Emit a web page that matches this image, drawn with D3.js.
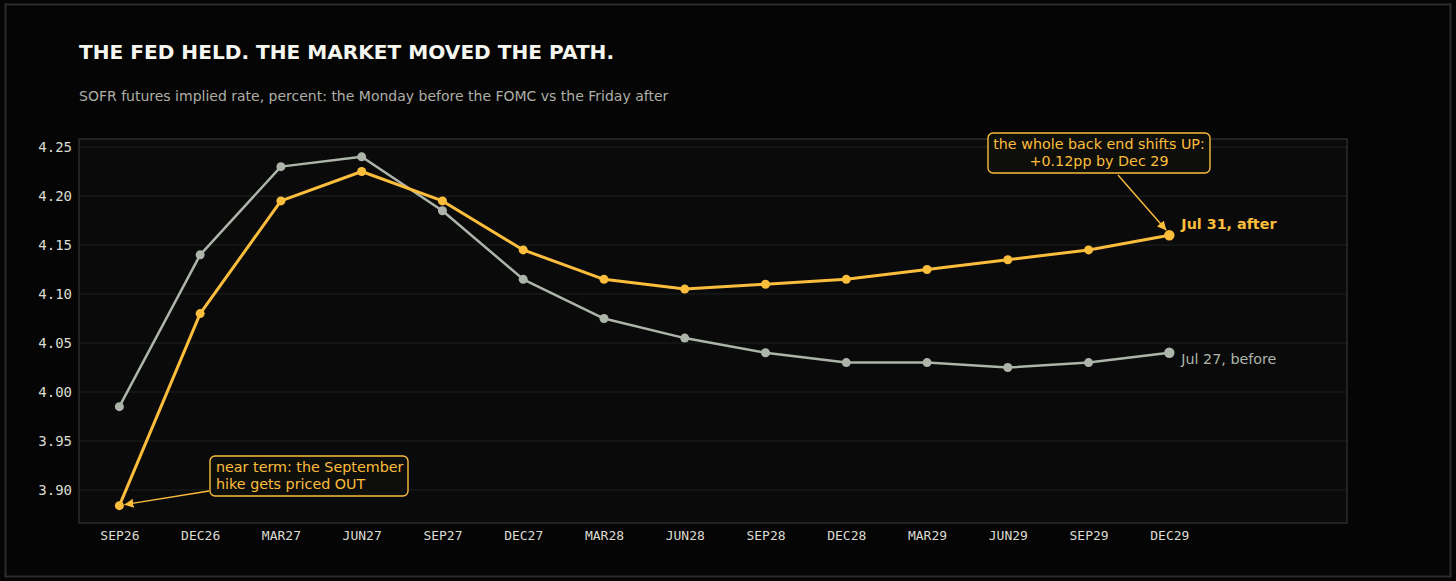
<!DOCTYPE html>
<html lang="en">
  <head>
    <meta charset="UTF-8" />
    <title>The Fed held. The market moved the path.</title>
    <style>
      html, body { margin: 0; padding: 0; background: #050505; }
      svg { display: block; }
      .tick text { font-family: "DejaVu Sans Mono", monospace; fill: #dcdcd2; }
    </style>
    <script src="https://d3js.org/d3.v7.min.js"></script>
  </head>
  <body>
    <svg width="1456" height="581"></svg>
    <script>
      // contract months
      var contracts = ["SEP26", "DEC26", "MAR27", "JUN27", "SEP27", "DEC27", "MAR28",
        "JUN28", "SEP28", "DEC28", "MAR29", "JUN29", "SEP29", "DEC29"];
      // Jul 27 (Monday before)
      var before = [3.985, 4.14, 4.23, 4.24, 4.185, 4.115, 4.075, 4.055, 4.04, 4.03, 4.03, 4.025, 4.03, 4.04];
      // Jul 31 (Friday after)
      var after = [3.884, 4.08, 4.195, 4.225, 4.195, 4.145, 4.115, 4.105, 4.11, 4.115, 4.125, 4.135, 4.145, 4.16];
      var yTicks = [3.90, 3.95, 4.00, 4.05, 4.10, 4.15, 4.20, 4.25];

      var gold = "#fbbd3c";
      var grey = "#adb5aa";

      var svg = d3.select("svg");
      var W = +svg.attr("width"), H = +svg.attr("height");

      svg.append("rect").attr("width", W).attr("height", H).attr("fill", "#050505");
      svg.append("rect")
        .attr("x", 5.5).attr("y", 4.5).attr("width", W - 11).attr("height", H - 9)
        .attr("fill", "none").attr("stroke", "#2b2b2b").attr("stroke-width", 2);

      var pL = 79, pR = 1347, pT = 139, pB = 523;

      var x = d3.scaleLinear().domain([-0.5, 15.2]).range([pL, pR]);
      var y = d3.scaleLinear().domain([3.8663, 4.2582]).range([pB, pT]);

      svg.append("text").attr("x", 79).attr("y", 59)
        .attr("font-family", "DejaVu Sans").attr("font-weight", "bold").attr("font-size", 20.1)
        .attr("fill", "#f6f6f0").text("THE FED HELD. THE MARKET MOVED THE PATH.");
      svg.append("text").attr("x", 79).attr("y", 101)
        .attr("font-family", "DejaVu Sans").attr("font-size", 14)
        .attr("fill", "#aeaea6").text("SOFR futures implied rate, percent: the Monday before the FOMC vs the Friday after");

      svg.append("rect")
        .attr("x", pL).attr("y", pT).attr("width", pR - pL).attr("height", pB - pT)
        .attr("fill", "#0a0a0a");

      // grid
      svg.append("g").selectAll("line").data(yTicks).join("line")
        .attr("x1", pL).attr("x2", pR)
        .attr("y1", d => y(d)).attr("y2", d => y(d))
        .attr("stroke", "#1b211c").attr("stroke-width", 1.2);

      svg.append("rect")
        .attr("x", pL).attr("y", pT).attr("width", pR - pL).attr("height", pB - pT)
        .attr("fill", "none").attr("stroke", "#2f352f").attr("stroke-width", 1.3);

      var yAxis = d3.axisLeft(y).tickValues(yTicks).tickFormat(d3.format(".2f")).tickSize(0).tickPadding(7);
      var gy = svg.append("g").attr("transform", "translate(" + pL + ",0)").call(yAxis);
      gy.select(".domain").remove();
      gy.selectAll("text").attr("font-size", 14);

      var xAxis = d3.axisBottom(x).tickValues(d3.range(contracts.length))
        .tickFormat(i => contracts[i]).tickSize(0).tickPadding(8);
      var gx = svg.append("g").attr("transform", "translate(0," + pB + ")").call(xAxis);
      gx.select(".domain").remove();
      gx.selectAll("text").attr("font-size", 13);

      var line = d3.line().x((d, i) => x(i)).y(d => y(d));

      function series(vals, color, width) {
        svg.append("path").attr("d", line(vals)).attr("fill", "none")
          .attr("stroke", color).attr("stroke-width", width).attr("stroke-linejoin", "round");
        svg.append("g").selectAll("circle").data(vals).join("circle")
          .attr("cx", (d, i) => x(i)).attr("cy", d => y(d))
          .attr("r", (d, i) => i === vals.length - 1 ? 5.2 : 4.5)
          .attr("fill", color);
      }
      series(before, grey, 2.5);
      series(after, gold, 3);

      var last = contracts.length - 1;
      svg.append("text").attr("x", x(last) + 12).attr("y", y(after[last]) - 6)
        .attr("font-family", "DejaVu Sans").attr("font-weight", "bold").attr("font-size", 14.3)
        .attr("fill", gold).text("Jul 31, after");
      svg.append("text").attr("x", x(last) + 12).attr("y", y(before[last]) + 11)
        .attr("font-family", "DejaVu Sans").attr("font-size", 14.3)
        .attr("fill", grey).text("Jul 27, before");

      // arrow head
      svg.append("defs").append("marker").attr("id", "arr")
        .attr("viewBox", "0 0 10 10").attr("refX", 10).attr("refY", 5)
        .attr("markerWidth", 9).attr("markerHeight", 9).attr("markerUnits", "userSpaceOnUse")
        .attr("orient", "auto")
        .append("path").attr("d", "M0,0 L10,5 L0,10 z").attr("fill", gold);

      function callout(bx, by, bw, bh, lines, anchor, tx, fromX, fromY, toX, toY) {
        svg.append("line").attr("x1", fromX).attr("y1", fromY).attr("x2", toX).attr("y2", toY)
          .attr("stroke", gold).attr("stroke-width", 1.4).attr("marker-end", "url(#arr)");
        svg.append("rect").attr("x", bx).attr("y", by).attr("width", bw).attr("height", bh)
          .attr("rx", 5).attr("fill", "#0e0e0b").attr("stroke", gold).attr("stroke-width", 1.4);
        var t = svg.append("text").attr("font-family", "DejaVu Sans").attr("font-size", 14.3)
          .attr("fill", gold).attr("text-anchor", anchor);
        lines.forEach(function (s, i) {
          t.append("tspan").attr("x", tx).attr("y", by + 16 + i * 16.5).text(s);
        });
      }

      callout(210, 456, 198, 40, ["near term: the September", "hike gets priced OUT"], "start", 216,
        209, 491, x(0) + 5, y(after[0]) - 1);
      callout(988, 133, 222, 40, ["the whole back end shifts UP:", "+0.12pp by Dec 29"], "middle", 1099,
        1118, 175, x(last) - 3, y(after[last]) - 5);
    </script>
  </body>
</html>
